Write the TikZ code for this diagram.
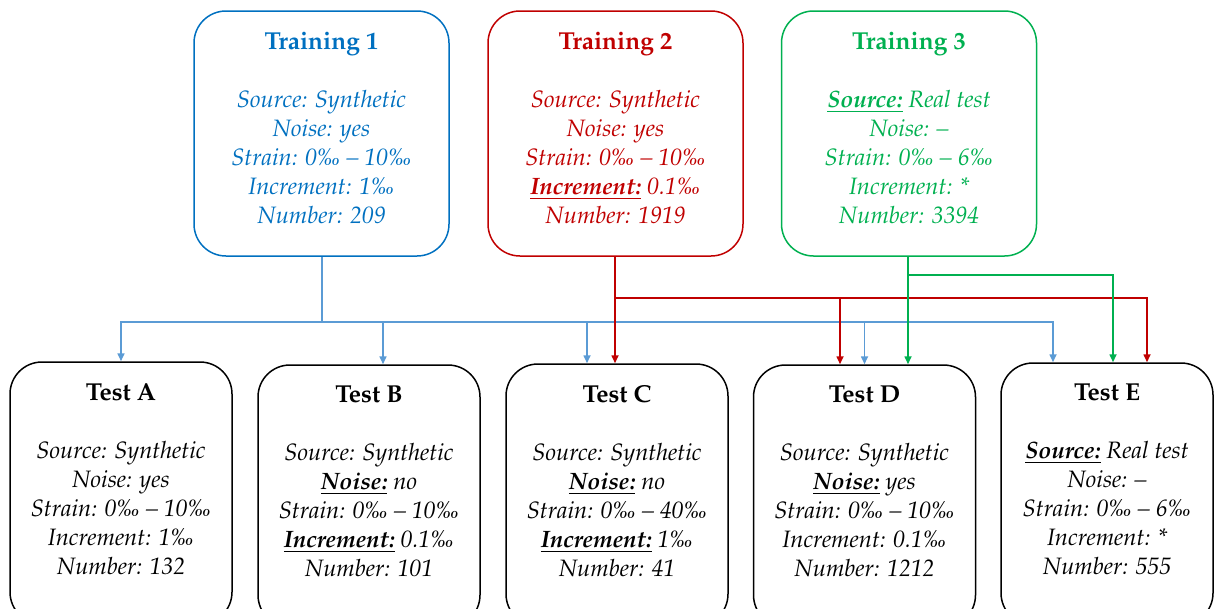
\documentclass[tikz,border=0pt]{standalone}
\usepackage[T1]{fontenc}
\usepackage{mathpazo}
\usepackage{textcomp}
\usetikzlibrary{arrows.meta}
\definecolor{tblue}{HTML}{0070C0}
\definecolor{lblue}{HTML}{5B9BD5}
\definecolor{tred}{HTML}{C00000}
\definecolor{tgreen}{HTML}{00B050}
\newcommand\pml{\textperthousand}
\newcommand\keyu[1]{\underline{\textbf{\textit{#1}}}}
\newcommand\ttl[1]{{\fontsize{24.5}{29}\selectfont\textbf{\upshape #1}}}
\begin{document}
\begin{tikzpicture}[x=1pt,y=-1pt,
  trainbox/.style={draw, line width=1.5pt, rounded corners=32pt, minimum width=255pt, minimum height=245pt, inner sep=0pt},
  testbox/.style={draw=black, line width=1.5pt, rounded corners=32pt, minimum width=222pt, minimum height=262pt, inner sep=0pt},
  txt/.style={align=center, font=\fontsize{23.7}{29}\selectfont\itshape, inner sep=0pt, anchor=north},
  conn/.style={line width=1.6pt, -{Triangle[length=8pt,width=7pt]}},
  rail/.style={line width=1.6pt}]
\useasboundingbox (0,0) rectangle (1215,608);
\clip (0,0) rectangle (1215,608);
% training boxes
\node[trainbox, draw=tblue] (t1) at (321.5,133.5) {};
\node[trainbox, draw=tred] (t2) at (615.5,133.5) {};
\node[trainbox, draw=tgreen] (t3) at (909,133.5) {};
% test boxes
\node[testbox] (ta) at (121,493) {};
\node[testbox] (tb) at (369,496) {};
\node[testbox] (tc) at (617,495) {};
\node[testbox] (td) at (864.5,496) {};
\node[testbox, minimum width=212pt] (te) at (1107,494) {};
% texts
\node[txt, text=tblue] (t1txt) at ([yshift=-22pt]t1.north) {\ttl{Training 1}\\[29pt]
Source: Synthetic\\ Noise: yes\\ Strain: 0\pml{} -- 10\pml\\ Increment: 1\pml\\ Number: 209};
\node[txt, text=tred] (t2txt) at ([yshift=-22pt]t2.north) {\ttl{Training 2}\\[29pt]
Source: Synthetic\\ Noise: yes\\ Strain: 0\pml{} -- 10\pml\\ \keyu{Increment:} 0.1\pml\\ Number: 1919};
\node[txt, text=tgreen] (t3txt) at ([yshift=-22pt]t3.north) {\ttl{Training 3}\\[29pt]
\keyu{Source:} Real test\\ Noise: --\\ Strain: 0\pml{} -- 6\pml\\ Increment: *\\ Number: 3394};
\node[txt] (tatxt) at ([yshift=-22pt]ta.north) {\ttl{Test A}\\[29pt]
Source: Synthetic\\ Noise: yes\\ Strain: 0\pml{} -- 10\pml\\ Increment: 1\pml\\ Number: 132};
\node[txt] (tbtxt) at ([yshift=-22pt]tb.north) {\ttl{Test B}\\[29pt]
Source: Synthetic\\ \keyu{Noise:} no\\ Strain: 0\pml{} -- 10\pml\\ \keyu{Increment:} 0.1\pml\\ Number: 101};
\node[txt] (tctxt) at ([yshift=-22pt]tc.north) {\ttl{Test C}\\[29pt]
Source: Synthetic\\ \keyu{Noise:} no\\ Strain: 0\pml{} -- 40\pml\\ \keyu{Increment:} 1\pml\\ Number: 41};
\node[txt] (tdtxt) at ([yshift=-22pt]td.north) {\ttl{Test D}\\[29pt]
Source: Synthetic\\ \keyu{Noise:} yes\\ Strain: 0\pml{} -- 10\pml\\ Increment: 0.1\pml\\ Number: 1212};
\node[txt] (tetxt) at ([yshift=-22pt]te.north) {\ttl{Test E}\\[29pt]
\keyu{Source:} Real test\\ Noise: --\\ Strain: 0\pml{} -- 6\pml\\ Increment: *\\ Number: 555};
% arrow end points on the test boxes
\coordinate (inA) at (ta.north);
\coordinate (inBb) at ([xshift=14pt]tb.north);
\coordinate (inCb) at ([xshift=-30pt]tc.north);
\coordinate (inCr) at ([xshift=-2pt]tc.north);
\coordinate (inDr) at ([xshift=-24.5pt]td.north);
\coordinate (inDb) at (td.north);
\coordinate (inDg) at ([xshift=43.5pt]td.north);
\coordinate (inEb) at ([xshift=-54pt]te.north);
\coordinate (inEg) at ([xshift=6pt]te.north);
\coordinate (inEr) at ([xshift=40pt]te.north);
% blue connectors
\coordinate (bj) at (322,322);
\draw[rail, lblue] (t1.south -| bj) -- (bj);
\draw[conn, lblue] (bj) -| (inA);
\draw[conn, lblue] (bj) -| (inEb);
\draw[conn, lblue] (bj -| inBb) -- (inBb);
\draw[conn, lblue] (bj -| inCb) -- (inCb);
\draw[conn, lblue] (bj -| inDb) -- (inDb);
% red connectors
\coordinate (rj) at (615,298);
\draw[conn, tred] (t2.south -| rj) -- (inCr);
\draw[conn, tred] (rj) -| (inEr);
\draw[conn, tred] (rj -| inDr) -- (inDr);
% green connectors
\coordinate (gj) at (908,275);
\draw[conn, tgreen] (t3.south -| gj) -- (inDg);
\draw[conn, tgreen] (gj) -| (inEg);
\end{tikzpicture}
\end{document}
